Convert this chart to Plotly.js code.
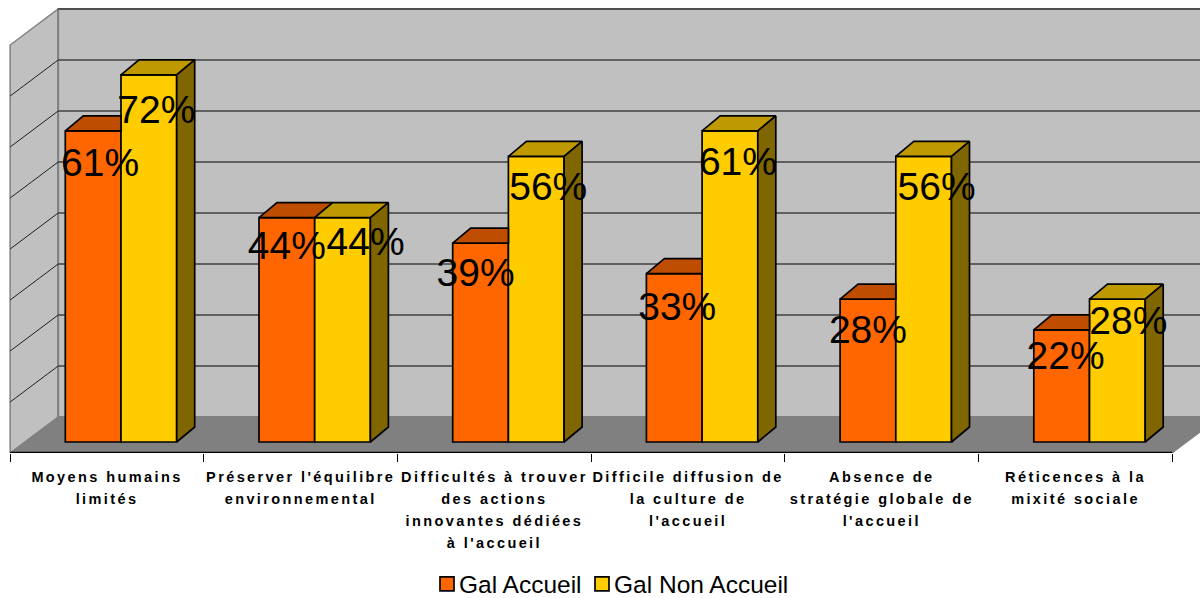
<!DOCTYPE html>
<html><head><meta charset="utf-8">
<script src="https://cdn.plot.ly/plotly-3.0.1.min.js"></script>
<style>
html,body{margin:0;padding:0;background:#fff;overflow:hidden}
.xtick text{letter-spacing:2.4px}
</style></head><body><div id="chart" style="width:1200px;height:598px"></div>
<script>
const categories=["Moyens humains<br>limités","Préserver l'équilibre<br>environnemental","Difficultés à trouver<br>des actions<br>innovantes dédiées<br>à l'accueil","Difficile diffusion de<br>la culture de<br>l'accueil","Absence de<br>stratégie globale de<br>l'accueil","Réticences à la<br>mixité sociale"];
const galAccueil=[61,44,39,33,28,22];
const galNonAccueil=[72,44,56,61,56,28];
const gridValues=[0,10,20,30,40,50,60,70,80];
// label nudges, in pixels, relative to the top centre of each bar
const nudgeXA=[7,0,-5,3,0,4], dropA=[35,32,33,37,34,29];
const nudgeXB=[7.5,23,12,8,13,11], dropB=[38,28,34,34,34,25];

const PXX=193.7, PXY=5.1;
const W=1200, H=598, BOTTOM=453, ZERO=442, CX=107;
const xRange=[-CX/PXX,(W-CX)/PXX];
const yRange=[(ZERO-BOTTOM)/PXY,ZERO/PXY];
const barW=55.7/PXX, offA=(65.3-107)/PXX, offB=(121-107)/PXX;
const dx=18/PXX, dv=15/PXY;
const wallDx=48/PXX, wallDv=36/PXY;
const idx=categories.map((_,i)=>i);
const x0=-0.5, x1=categories.length-0.5, y0=yRange[0];

function faces(vals,off,kind,clipTo){
  const xs=[],ys=[];
  vals.forEach((v,i)=>{
    const l=i+off,r=l+barW;
    let p;
    if(kind==='top'){
      const hid=clipTo&&clipTo[i]>v;
      p=hid?[[l,v],[l+dx,v+dv],[r,v+dv],[r,v],[l,v]]:[[l,v],[l+dx,v+dv],[r+dx,v+dv],[r,v],[l,v]];
    }else p=[[r,0],[r+dx,dv],[r+dx,v+dv],[r,v],[r,0]];
    p.forEach(q=>{xs.push(q[0]);ys.push(q[1]);});
    xs.push(null);ys.push(null);
  });
  return {xs,ys};
}
function faceTrace(f,color){
  return {type:'scatter',mode:'lines',x:f.xs,y:f.ys,fill:'toself',fillcolor:color,
    line:{color:'#000',width:1.7},showlegend:false,hoverinfo:'skip'};
}
function barTrace(name,vals,off,color){
  return {type:'bar',name,x:idx,y:vals,width:barW,offset:off,marker:{color,line:{color:'#000',width:1.7}},hoverinfo:'x+y+name'};
}
function labelTrace(vals,off,nx,dr){
  return {type:'scatter',mode:'text',x:vals.map((v,i)=>i+off+barW/2+nx[i]/PXX),y:vals.map((v,i)=>v-dr[i]/PXY),
    text:vals.map(v=>v+'%'),textposition:'middle center',cliponaxis:false,
    textfont:{family:'Liberation Sans, Arial, sans-serif',size:39,color:'#000'},showlegend:false,hoverinfo:'skip'};
}
const traces=[
  barTrace('Gal Accueil',galAccueil,offA,'#FF6600'),
  barTrace('Gal Non Accueil',galNonAccueil,offB,'#FFCC00'),
  faceTrace(faces(galAccueil,offA,'top',galNonAccueil),'#BF4D00'),
  faceTrace(faces(galNonAccueil,offB,'top'),'#BF9900'),
  faceTrace(faces(galNonAccueil,offB,'side'),'#806600'),
  labelTrace(galAccueil,offA,nudgeXA,dropA),
  labelTrace(galNonAccueil,offB,nudgeXB,dropB)
];
const backX=x0+wallDx, backY=y0+wallDv, topV=gridValues[gridValues.length-1];
const rightX=x1+wallDx;
const poly=(pts)=>'M'+pts.map(p=>p[0]+','+p[1]).join('L')+'Z';
const shapes=[
  {type:'path',layer:'below',xref:'x',yref:'y',path:poly([[x0,y0],[backX,backY],[backX,backY+topV],[x0,y0+topV]]),fillcolor:'#C0C0C0',line:{color:'#808080',width:1.5}},
  {type:'path',layer:'below',xref:'x',yref:'y',path:poly([[backX,backY],[rightX+1,backY],[rightX+1,backY+topV],[backX,backY+topV]]),fillcolor:'#C0C0C0',line:{color:'#808080',width:2}},
  {type:'path',layer:'below',xref:'x',yref:'y',path:poly([[x0,y0],[backX,backY],[rightX,backY],[x1,y0]]),fillcolor:'#808080',line:{color:'#808080',width:1}}
];
gridValues.forEach((g,k)=>{
  if(k>0) shapes.push({type:'line',layer:'below',xref:'x',yref:'y',x0:backX,x1:rightX+1,y0:backY+g,y1:backY+g,line:{color:'#404040',width:1.4}});
  if(k>0 && k<gridValues.length-1) shapes.push({type:'line',layer:'below',xref:'x',yref:'y',x0:x0,x1:backX,y0:y0+g,y1:backY+g,line:{color:'#202020',width:1}});
});
shapes.push({type:'line',layer:'below',xref:'x',yref:'y',x0:x0,x1:x1,y0:y0,y1:y0,line:{color:'#000',width:2.4}});
const tickEdges=categories.map((_,i)=>i-0.5).concat([x1]);
const layout={
  width:W,height:H,paper_bgcolor:'#fff',plot_bgcolor:'#fff',
  margin:{l:0,r:0,t:0,b:H-BOTTOM,pad:0,autoexpand:false},
  barmode:'overlay',showlegend:true,
  font:{family:'Liberation Sans, Arial, sans-serif',color:'#000'},
  legend:{orientation:'h',xref:'container',yref:'container',x:427/W,xanchor:'left',y:1-584/H,yanchor:'middle',font:{size:24.5,color:'#000'},bgcolor:'rgba(0,0,0,0)',traceorder:'normal'},
  xaxis:{range:xRange,tickmode:'array',tickvals:idx,ticktext:categories,tickangle:0,ticks:'',ticklabelstandoff:13,showgrid:false,zeroline:false,showline:false,fixedrange:true,
    tickfont:{family:'Liberation Sans, Arial, sans-serif',size:14.5,color:'#000',weight:'bold'},
    minor:{tickmode:'array',tickvals:tickEdges,ticks:'outside',ticklen:8,tickwidth:1.2,tickcolor:'#000',showgrid:false}},
  yaxis:{range:yRange,visible:false,showgrid:false,zeroline:false,fixedrange:true},
  shapes
};
Plotly.newPlot('chart',traces,layout,{displayModeBar:false}).then(()=>{
  document.querySelectorAll('.xtick tspan.line').forEach(t=>{
    const m=parseFloat(t.getAttribute('dy'));
    if(!isNaN(m)) t.setAttribute('dy',(m/1.3*22/14.5)+'em');
  });
  const items=[...document.querySelectorAll('.legend .traces')];
  let first=null;
  items.forEach((g,i)=>{
    const t=g.querySelector('text.legendtext');
    if(t) t.setAttribute('x',32);
    const p=g.querySelector('.legendpoints path');
    if(p) p.setAttribute('d','M7,7H-7V-7H7Z');
    const m=/translate\(([-\d.]+),\s*([-\d.]+)\)/.exec(g.getAttribute('transform')||'');
    if(m){ if(i===0) first=[+m[1],+m[2]]; else g.setAttribute('transform','translate('+(first[0]+155)+','+first[1]+')'); }
  });
});
</script></body></html>
